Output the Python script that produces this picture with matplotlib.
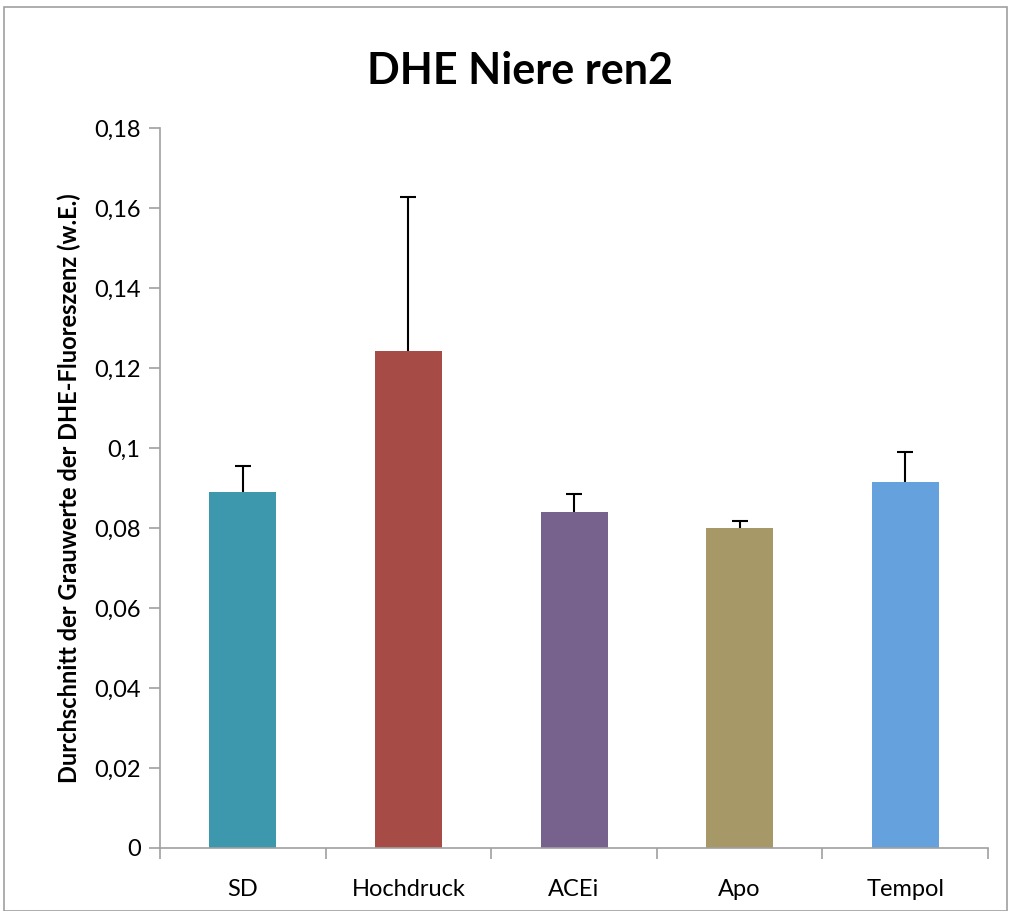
import matplotlib
matplotlib.use("Agg")
import matplotlib.pyplot as plt
from matplotlib.patches import Rectangle
from matplotlib.ticker import FuncFormatter, MultipleLocator

categories = ["SD", "Hochdruck", "ACEi", "Apo", "Tempol"]
means = [0.0891, 0.1243, 0.0841, 0.0799, 0.0914]
err_upper = [0.0065, 0.0385, 0.0045, 0.0018, 0.0075]
colors = ["#3D97AD", "#A64B45", "#77618D", "#A69867", "#64A1DD"]

plt.rcParams['font.family'] = ['Lato', 'DejaVu Sans']

fig = plt.figure(figsize=(10.11, 9.11), dpi=100)
fig.patches.append(Rectangle((0.004, 0.0), 0.992, 0.992, transform=fig.transFigure,
                             fill=False, edgecolor="#A0A0A0", linewidth=1.2))
ax = fig.add_axes([0.1583, 0.0692, 0.819, 0.7903])

x = list(range(len(categories)))
ax.bar(x, means, width=0.405, color=colors, zorder=2)
eb = ax.errorbar(x, means, yerr=[[0]*len(means), err_upper], fmt='none', ecolor='black',
                 elinewidth=1.5, capsize=5.8, capthick=1.5, zorder=3)
caps = eb[1]
if len(caps) >= 2:
    caps[0].set_visible(False)

ax.set_xlim(-0.5, len(categories) - 0.5)
ax.set_ylim(0, 0.18)
ax.yaxis.set_major_locator(MultipleLocator(0.02))
ax.yaxis.set_major_formatter(FuncFormatter(lambda v, p: f"{v:.2f}".rstrip('0').rstrip('.').replace('.', ',') if v != 0 else "0"))

ax.set_xticks([i - 0.5 for i in range(len(categories) + 1)], minor=False)
ax.set_xticklabels([])
ax.set_xticks(x, minor=True)
ax.set_xticklabels(categories, minor=True, fontsize=17)
ax.tick_params(axis='x', which='minor', length=0, pad=22)
ax.tick_params(axis='x', which='major', length=8, width=1.2, color="#A0A0A0", direction='out')
ax.tick_params(axis='y', length=8, width=1.2, color="#A0A0A0", direction='out', labelsize=17, pad=6)

for s in ['top', 'right']:
    ax.spines[s].set_visible(False)
for s in ['left', 'bottom']:
    ax.spines[s].set_color("#A0A0A0")
    ax.spines[s].set_linewidth(1.2)

ax.set_ylabel("Durchschnitt der Grauwerte der DHE-Fluoreszenz (w.E.)", fontsize=17,
              fontweight='bold', labelpad=9)
fig.text(0.5145, 0.922, "DHE Niere ren2", ha='center', va='center', fontsize=31, fontweight='bold')

fig.savefig("out.png", dpi=100)
